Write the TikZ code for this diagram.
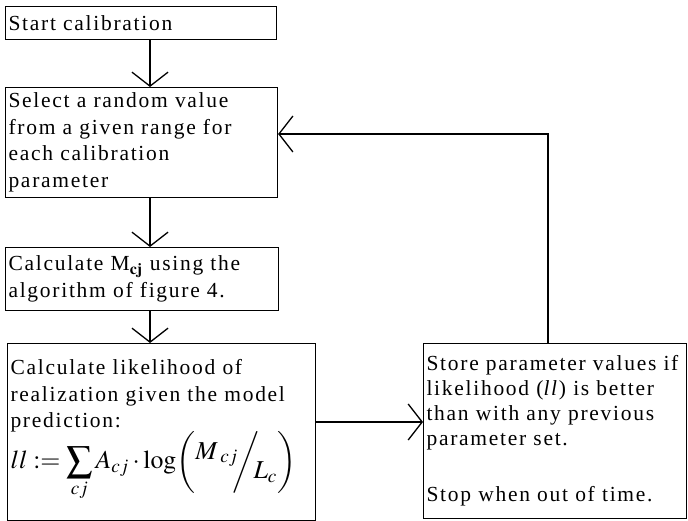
\documentclass[tikz,border=0pt]{standalone}
\usepackage[no-math]{fontspec}
\usepackage{mathptmx}
\setmainfont{Liberation Serif}[LetterSpace=8]
\usetikzlibrary{arrows.meta}
\tikzset{
  box/.style={draw, line width=1.1pt, anchor=north west, align=left,
    inner xsep=3pt, inner ysep=2pt,
    font=\fontsize{21.5}{26.5}\selectfont},
  flow/.style={line width=1.3pt,
    -{Straight Barb[length=14pt,width=36pt,line width=1.3pt]}}
}
\begin{document}
\begin{tikzpicture}[x=1pt,y=-1pt]
\useasboundingbox (0,0) rectangle (688,521);
% flow chart boxes
\node[box, text width=265pt, minimum height=33pt] (start) at (5,6) {Start calibration};
\node[box, text width=266pt, minimum height=110pt] (select) at (5,87)
  {Select a random value\\ from a given range for\\ each calibration\\ parameter};
\node[box, text width=267pt, minimum height=63pt] (calc) at (5,247)
  {Calculate M$_{\mathbf{cj}}$ using the\\ algorithm of figure 4.};
\node[box, text width=302pt, minimum height=177pt] (likel) at (7,343)
  {Calculate likelihood of\\ realization given the model\\ prediction:\\[-2pt]
   \scalebox{1.2}{$\displaystyle ll:=\sum\limits_{cj} A_{cj}\cdot\log\biggl(\raisebox{8pt}{$M_{\;cj}$}\!\!\bigg/\!\!\raisebox{-8pt}{$L_c$}\biggr)$}\\[2pt]\mbox{}};
\node[box, text width=257pt, minimum height=175pt, font=\fontsize{21.5}{25}\selectfont] (store) at (423,343)
  {Store parameter values if\\ likelihood (\textit{ll}) is better\\ than with any previous\\ parameter set.\\[31pt] Stop when out of time.};
% connectors
\coordinate (ax) at (150,0);
\coordinate (mid) at (0,422);
\coordinate (loop) at (548,134);
\draw[flow] (start.south -| ax) -- (select.north -| ax);
\draw[flow] (select.south -| ax) -- (calc.north -| ax);
\draw[flow] (calc.south -| ax) -- (likel.north -| ax);
\draw[flow] (likel.east |- mid) -- (store.west |- mid);
\draw[flow] (store.north -| loop) |- (select.east |- loop);
\end{tikzpicture}
\end{document}
